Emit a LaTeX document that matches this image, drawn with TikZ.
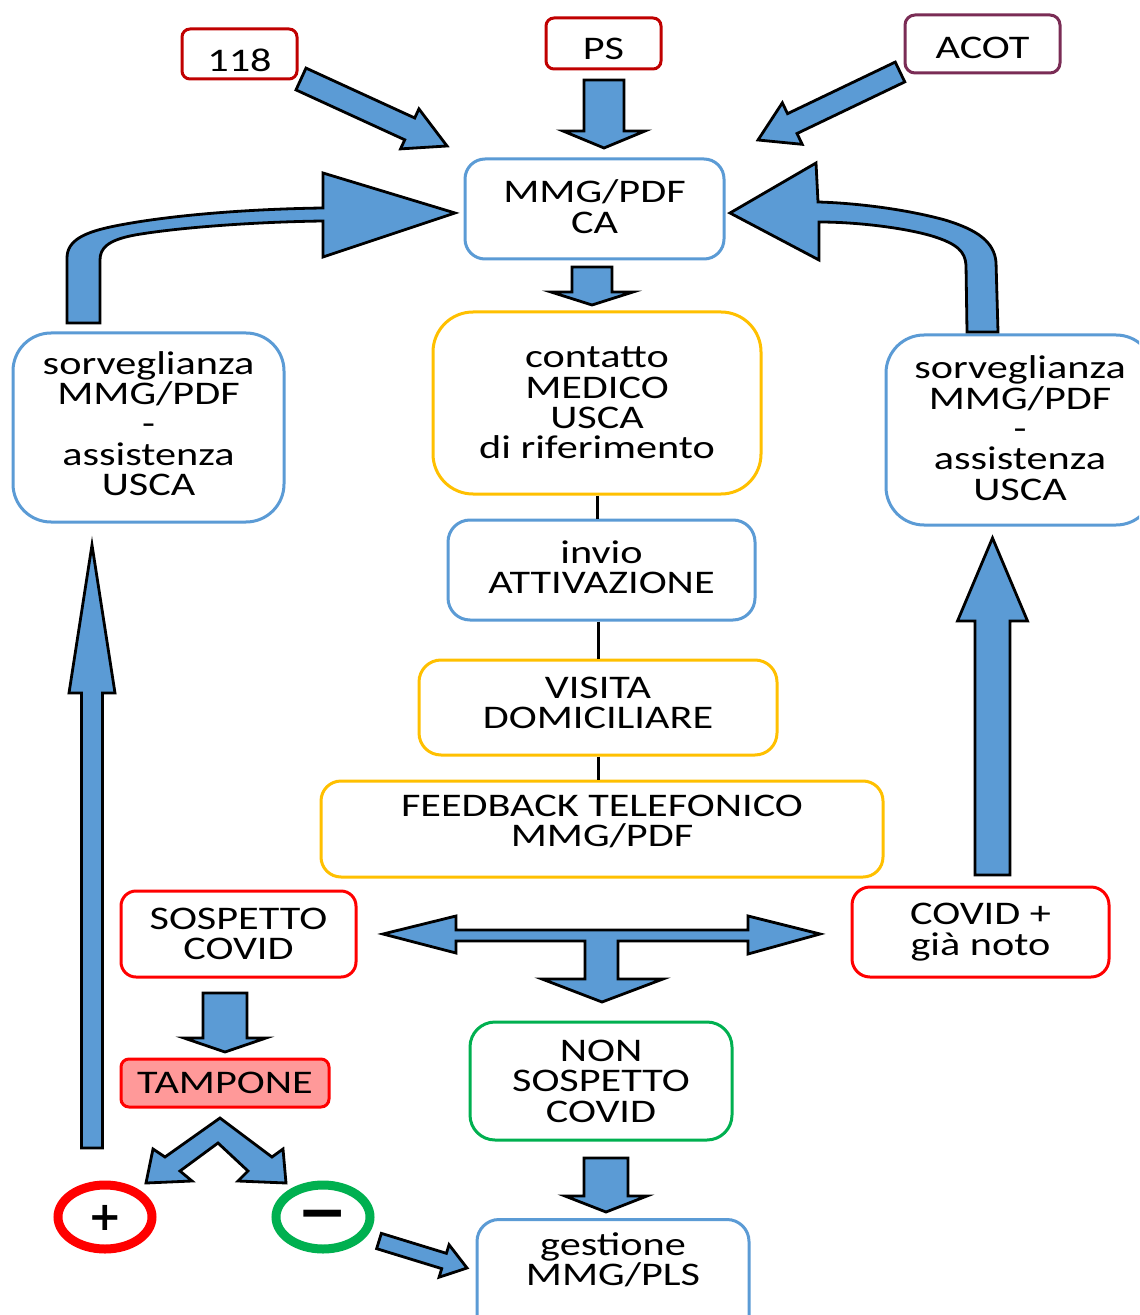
\documentclass[tikz,border=0pt]{standalone}
\usepackage{fontspec}
\setmainfont{Carlito}[FakeStretch=1.28]
\newfontfamily\signfont{DejaVu Sans}
\usetikzlibrary{calc,shapes.geometric}

\definecolor{boxblue}{HTML}{5B9BD5}
\definecolor{arrowblue}{HTML}{5B9BD5}
\definecolor{boxyellow}{HTML}{FFC000}
\definecolor{darkred}{HTML}{C00000}
\definecolor{plum}{HTML}{7A2C55}
\definecolor{brightred}{HTML}{FF0000}
\definecolor{okgreen}{HTML}{00B050}
\definecolor{swabpink}{HTML}{FF9999}

\newcommand\boxtext{\fontsize{16.5pt}{15.2pt}\selectfont}
% lower a single line of text without changing its box
\newcommand\lowered[2]{\raisebox{-#1}[\height][\depth]{#2}}

% straight block arrow: start, end, shaft half width, head half width, head length
\newcommand\blockarrow[5]{%
  \coordinate (ba-h) at ($(#2)!#5!(#1)$);
  \draw[barrow] ($(#1)!#3!90:(#2)$) -- ($(ba-h)!#3!90:(#2)$)
    -- ($(ba-h)!#4!90:(#2)$) -- (#2) -- ($(ba-h)!#4!-90:(#2)$)
    -- ($(ba-h)!#3!-90:(#2)$) -- ($(#1)!#3!-90:(#2)$) -- cycle;
}

\begin{document}
\begin{tikzpicture}[x=0.5pt,y=-0.5pt,
  box/.style={draw=#1, line width=1.5pt, fill=white, align=center,
    inner sep=0pt, font=\boxtext, text=black},
  barrow/.style={fill=arrowblue, draw=black, line width=1.4pt, line join=miter},
  link/.style={draw=black, line width=1.5pt},
  sign/.style={ellipse, draw=#1, line width=4.5pt, minimum width=47pt,
    minimum height=32pt, inner sep=0pt}]

\clip (0,0) rectangle (1139,1315);
\fill[white] (0,0) rectangle (1139,1315);

% sources
\node[box=darkred, rounded corners=4pt, minimum width=57.5pt, minimum height=25pt] (n118) at (239.5,54) {\lowered{3pt}{118}};
\node[box=darkred, rounded corners=4pt, minimum width=57.5pt, minimum height=25.5pt] (ps) at (603.5,43.5) {\lowered{2.5pt}{PS}};
\node[box=plum, rounded corners=5pt, minimum width=77.5pt, minimum height=29pt] (acot) at (982.5,44) {\lowered{2pt}{ACOT}};

% central column
\node[box=boxblue, rounded corners=10pt, minimum width=129.5pt, minimum height=50pt, text depth=2.5pt] (mmg) at (594.5,209) {MMG/PDF\\CA};
\node[box=boxyellow, rounded corners=20pt, minimum width=164pt, minimum height=91pt] (cont) at (597,403) {contatto\\MEDICO\\USCA\\di riferimento};
\node[box=boxblue, rounded corners=11pt, minimum width=153.5pt, minimum height=50pt, text depth=3pt] (invio) at (601.5,570) {invio\\ATTIVAZIONE};
\node[box=boxyellow, rounded corners=11pt, minimum width=179pt, minimum height=47.5pt, text depth=5pt] (visita) at (598,707.5) {VISITA\\DOMICILIARE};
\node[box=boxyellow, rounded corners=10pt, minimum width=281pt, minimum height=48pt, text depth=8pt] (feed) at (602,829) {FEEDBACK TELEFONICO\\MMG/PDF};

% side boxes
\node[box=boxblue, rounded corners=19pt, minimum width=135.5pt, minimum height=94.5pt, text depth=4pt] (sorvL) at (148.5,427.5) {sorveglianza\\MMG/PDF\\-\\assistenza\\USCA};
\node[box=boxblue, rounded corners=19pt, minimum width=134pt, minimum height=95pt, text depth=2pt] (sorvR) at (1020,430) {sorveglianza\\MMG/PDF\\-\\assistenza\\USCA};

% outcomes
\node[box=brightred, rounded corners=7.5pt, minimum width=117.5pt, minimum height=43pt] (sosp) at (238.5,934) {SOSPETTO\\COVID};
\node[box=brightred, rounded corners=9pt, minimum width=128.5pt, minimum height=45pt] (covid) at (980.5,932) {COVID +\\già noto};
\node[box=brightred, fill=swabpink, rounded corners=4pt, minimum width=104pt, minimum height=24pt] (tamp) at (225,1083) {TAMPONE};
\node[box=okgreen, rounded corners=12.5pt, minimum width=131pt, minimum height=59pt] (non) at (601,1081) {NON\\SOSPETTO\\COVID};
\node[box=boxblue, rounded corners=11pt, minimum width=136pt, minimum height=70pt, anchor=north,
  label={[font=\boxtext, align=center, anchor=center, yshift=-21pt]north:gestione\\MMG/PLS}] (gest) at (613,1218) {};

\node[sign=brightred] (plus) at (105,1217) {\signfont\bfseries\fontsize{20pt}{20pt}\selectfont\lowered{0.5pt}{+}};
\node[sign=okgreen] (minus) at (323,1217) {\signfont\bfseries\fontsize{30pt}{30pt}\selectfont\lowered{2pt}{−}};

% thin links down the central column
\draw[link] (cont.south) -- (cont.south |- invio.north);
\draw[link] (visita.north |- invio.south) -- (visita.north);
\draw[link] (visita.south) -- (visita.south |- feed.north);

% arrow end points
\coordinate (a1s) at (301,79);   \coordinate (a1e) at (447,146);
\coordinate (a2s) at (604,80);   \coordinate (a2e) at (604,148);
\coordinate (a3s) at (900,72);   \coordinate (a3e) at (758,140);
\coordinate (a4s) at (592,267);  \coordinate (a4e) at (592,305);
\coordinate (a7s) at (92,1148);  \coordinate (a7e) at (92,545);
\coordinate (a8s) at (992.5,875); \coordinate (a8e) at (992.5,538);
\coordinate (a10s) at (225,993); \coordinate (a10e) at (225,1052);
\coordinate (a12s) at (379,1241); \coordinate (a12e) at (467,1268);
\coordinate (a13s) at (606,1158); \coordinate (a13e) at (606,1212);

\blockarrow{a1s}{a1e}{6pt}{11pt}{20.5pt}
\blockarrow{a2s}{a2e}{10pt}{20.5pt}{8.5pt}
\blockarrow{a3s}{a3e}{5.5pt}{11.5pt}{19pt}
\blockarrow{a4s}{a4e}{10pt}{20.5pt}{6.5pt}
\blockarrow{a7s}{a7e}{5.25pt}{11.5pt}{74pt}
\blockarrow{a8s}{a8e}{8.75pt}{17.5pt}{41.5pt}
\blockarrow{a10s}{a10e}{11pt}{20.5pt}{7pt}
\blockarrow{a12s}{a12e}{4pt}{8.5pt}{12pt}
\blockarrow{a13s}{a13e}{11pt}{20.5pt}{8pt}

% curved return arrows into MMG/PDF
\draw[barrow] (67,323) -- (67,258) .. controls (67,240) and (85,232) .. (115,226)
  .. controls (170,215) and (250,209) .. (323,208) -- (323,173) -- (455,213) -- (323,257)
  -- (323,221) .. controls (250,222) and (175,228) .. (135,235)
  .. controls (108,240) and (100,248) .. (100,260) -- (100,323) -- cycle;
\draw[barrow] (998,332) -- (996,262) .. controls (994,242) and (978,230) .. (945,220)
  .. controls (905,209) and (855,203) .. (818,202) -- (816,163) -- (730,213) -- (819,260)
  -- (819,222) .. controls (858,222) and (905,228) .. (932,236)
  .. controls (958,244) and (965,252) .. (966,265) -- (967,332) -- cycle;

% three-way split below the feedback
\draw[barrow] (383,934) -- (456,916) -- (456,930) -- (748,930) -- (748,916) -- (820,934)
  -- (748,954) -- (748,941) -- (618,941) -- (618,979) -- (663,979) -- (602,1002)
  -- (542,979) -- (585,979) -- (585,941) -- (456,941) -- (456,953) -- cycle;

% swab result split
\draw[barrow] (220,1118) -- (272,1157) -- (283,1149) -- (286,1183) -- (238,1181)
  -- (248,1171) -- (218,1143) -- (180,1171) -- (192,1181) -- (146,1183)
  -- (153,1149) -- (165,1157) -- cycle;

\end{tikzpicture}
\end{document}
